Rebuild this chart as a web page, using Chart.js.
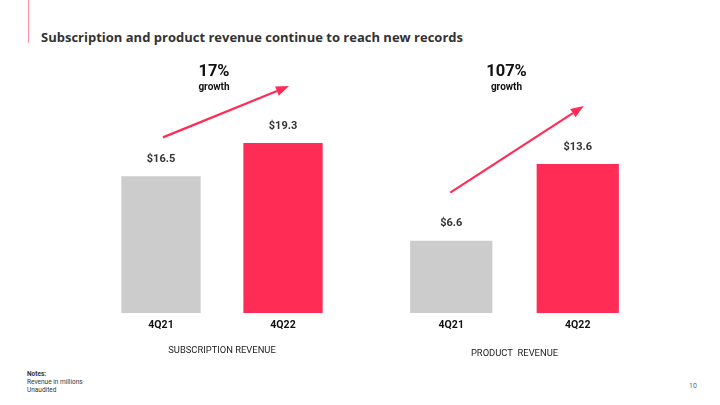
<!DOCTYPE html>
<html>
<head>
<meta charset="utf-8">
<script src="https://cdn.jsdelivr.net/npm/chart.js@4.4.1/dist/chart.umd.min.js"></script>
<style>
  body { margin: 0; width: 720px; height: 405px; position: relative; background: #fff; overflow: hidden; font-family: Roboto, sans-serif; }
  .accent { position: absolute; left: 28px; top: 0; width: 1px; height: 43px; background: #ff8fa3; }
  h1 { position: absolute; left: 41px; top: 28px; margin: 0; font: 700 13px "Open Sans", sans-serif; color: #333; white-space: nowrap; }
  canvas { position: absolute; }
  #subChart { left: 99.5px; top: 50px; }
  #prodChart { left: 388px; top: 50px; }
  .notes { position: absolute; left: 27px; top: 370px; font-size: 6.5px; line-height: 8px; color: #333; }
  .notes b { font-weight: 700; }
  .page { position: absolute; left: 689px; top: 382px; font-size: 7px; color: #666; }
</style>
</head>
<body>
<div class="accent"></div>
<h1>Subscription and product revenue continue to reach new records</h1>
<canvas id="subChart" width="244" height="306"></canvas>
<canvas id="prodChart" width="253" height="309"></canvas>
<div class="notes"><b>Notes:</b><br>Revenue in millions<br>Unaudited</div>
<div class="page">10</div>
<script>
const categories = ['4Q21', '4Q22'];
const subscriptionRevenue = [16.5, 19.3];
const productRevenue = [6.6, 13.6];
const growthLabels = ['17%', '107%'];
const barColors = ['#cccccc', '#ff2d55'];

// value labels, growth text and the arrow over the bars
const slideLabels = {
    id: 'slideLabels',
    afterDatasetsDraw(chart, args, opts) {
        const ctx = chart.ctx;
        const bars = chart.getDatasetMeta(0).data;
        const values = chart.data.datasets[0].data;
        ctx.save();
        ctx.textAlign = 'center';
        ctx.textBaseline = 'middle';
        ctx.fillStyle = '#333';
        ctx.font = 'bold 11px Roboto';
        bars.forEach((bar, i) => {
            ctx.fillText('$' + values[i].toFixed(1), bar.x, bar.y - 17);
        });

        const mid = (bars[0].x + bars[1].x) / 2 - 8;
        const top = chart.chartArea.top;
        ctx.fillStyle = '#111';
        ctx.font = 'bold 16.5px Roboto';
        ctx.fillText(opts.growth, mid, top + 12);
        ctx.font = 'bold 10px Roboto';
        ctx.fillText('growth', mid, top + 27);

        // arrow
        const x1 = bars[0].x + opts.from[0], y1 = bars[0].y + opts.from[1];
        const x2 = bars[1].x + opts.to[0], y2 = bars[1].y + opts.to[1];
        const ang = Math.atan2(y2 - y1, x2 - x1);
        const head = 13, half = 5;
        ctx.strokeStyle = '#ff2d55';
        ctx.fillStyle = '#ff2d55';
        ctx.lineWidth = 2.2;
        ctx.beginPath();
        ctx.moveTo(x1, y1);
        ctx.lineTo(x2 - Math.cos(ang) * head, y2 - Math.sin(ang) * head);
        ctx.stroke();
        ctx.beginPath();
        ctx.moveTo(x2, y2);
        ctx.lineTo(x2 - Math.cos(ang) * head - Math.sin(ang) * half, y2 - Math.sin(ang) * head + Math.cos(ang) * half);
        ctx.lineTo(x2 - Math.cos(ang) * head + Math.sin(ang) * half, y2 - Math.sin(ang) * head - Math.cos(ang) * half);
        ctx.closePath();
        ctx.fill();
        ctx.restore();
    }
};

function makeChart(id, values, yMin, yMax, axisTitle, titlePad, growth, from, to) {
    return new Chart(document.getElementById(id), {
        type: 'bar',
        data: {
            labels: categories,
            datasets: [{
                data: values,
                backgroundColor: barColors,
                borderWidth: 0,
                categoryPercentage: 1,
                barPercentage: 0.65
            }]
        },
        options: {
            responsive: false,
            animation: false,
            layout: { padding: { top: 10, left: 0, right: 0, bottom: 0 } },
            scales: {
                x: {
                    grid: { display: false, drawTicks: false },
                    border: { display: false },
                    ticks: { color: '#111', font: { family: 'Roboto', size: 10.5, weight: 'bold' }, padding: 6 },
                    title: {
                        display: true,
                        text: axisTitle,
                        color: '#222',
                        font: { family: 'Roboto', size: 9.4 },
                        padding: { top: titlePad, bottom: 0 }
                    }
                },
                y: { display: false, min: yMin, max: yMax }
            },
            plugins: {
                legend: { display: false },
                tooltip: { enabled: false },
                slideLabels: { growth: growth, from: from, to: to }
            }
        },
        plugins: [slideLabels]
    });
}

makeChart('subChart', subscriptionRevenue, 5, 26.3, 'SUBSCRIPTION REVENUE', 7.2, growthLabels[0], [2, -39], [6, -57]);
makeChart('prodChart', productRevenue, 0, 23.1, 'PRODUCT  REVENUE', 10.2, growthLabels[1], [-1, -48], [6, -58]);
</script>
</body>
</html>
